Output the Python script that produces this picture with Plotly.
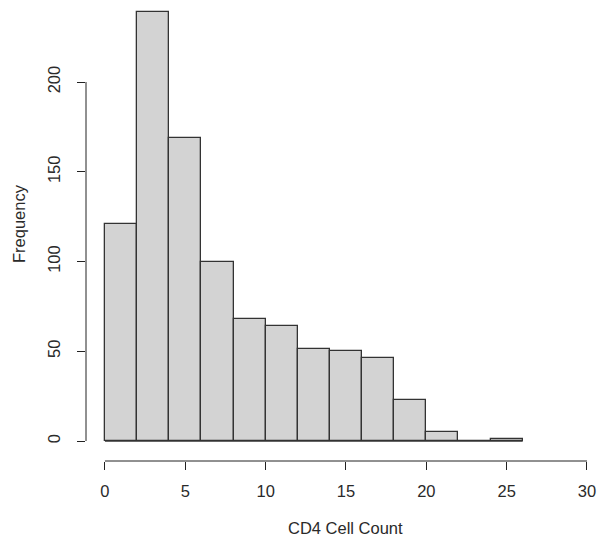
import plotly.graph_objects as go

bin_edges = [0, 2, 4, 6, 8, 10, 12, 14, 16, 18, 20, 22, 24, 26]
counts = [121, 239, 169, 100, 68, 64, 51, 50, 46, 23, 5, 0, 1]
x_ticks = [0, 5, 10, 15, 20, 25, 30]
y_ticks = [0, 50, 100, 150, 200]
x_label = "CD4 Cell Count"
y_label = "Frequency"

centers = [(bin_edges[i] + bin_edges[i + 1]) / 2 for i in range(len(counts))]
widths = [bin_edges[i + 1] - bin_edges[i] for i in range(len(counts))]

FONT = "Liberation Sans, Arial, sans-serif"
FS = 16.5
TXT = "#2a2a2a"

fig = go.Figure(go.Bar(
    x=centers, y=counts, width=widths,
    marker=dict(color="#D3D3D3", line=dict(color="#333333", width=1.3)),
    hoverinfo="x+y",
))

fig.update_layout(
    width=600, height=540,
    margin=dict(l=86, r=0, t=0, b=79),
    plot_bgcolor="white", paper_bgcolor="white",
    showlegend=False,
    font=dict(family=FONT, size=FS, color=TXT),
    bargap=0,
    xaxis=dict(
        range=[-1.18, 30.81], tickmode="array", tickvals=x_ticks,
        ticks="outside", ticklen=8, tickcolor="#222222", tickwidth=1,
        showgrid=False, zeroline=False, showline=False,
        tickfont=dict(size=FS, family=FONT, color=TXT),
        ticklabelstandoff=7,
    ),
    yaxis=dict(
        range=[-11.14, 245.7], tickmode="array", tickvals=y_ticks,
        ticks="outside", ticklen=8, tickcolor="#222222", tickwidth=1,
        tickangle=-90,
        showgrid=False, zeroline=False, showline=False,
        tickfont=dict(size=FS, family=FONT, color=TXT),
        ticklabelstandoff=10,
    ),
    shapes=[
        dict(type="line", xref="x", yref="paper", x0=x_ticks[0], x1=x_ticks[-1], y0=0, y1=0,
             line=dict(color="#222222", width=1)),
        dict(type="line", xref="paper", yref="y", x0=0, x1=0, y0=y_ticks[0], y1=y_ticks[-1],
             line=dict(color="#222222", width=1)),
        dict(type="line", xref="x", yref="y", x0=bin_edges[0], x1=bin_edges[-1], y0=0, y1=0,
             line=dict(color="#333333", width=1.3), layer="above"),
    ],
    annotations=[
        dict(text=x_label, xref="paper", yref="paper", x=(345 - 86) / 514, y=-(528 - 461) / 461,
             xanchor="center", yanchor="middle", showarrow=False,
             font=dict(size=FS, family=FONT, color=TXT)),
        dict(text=y_label, xref="paper", yref="paper", x=-(86 - 19) / 514, y=(461 - 224) / 461,
             xanchor="center", yanchor="middle", showarrow=False, textangle=-90,
             font=dict(size=FS, family=FONT, color=TXT)),
    ],
)

fig.write_html("out.html")
